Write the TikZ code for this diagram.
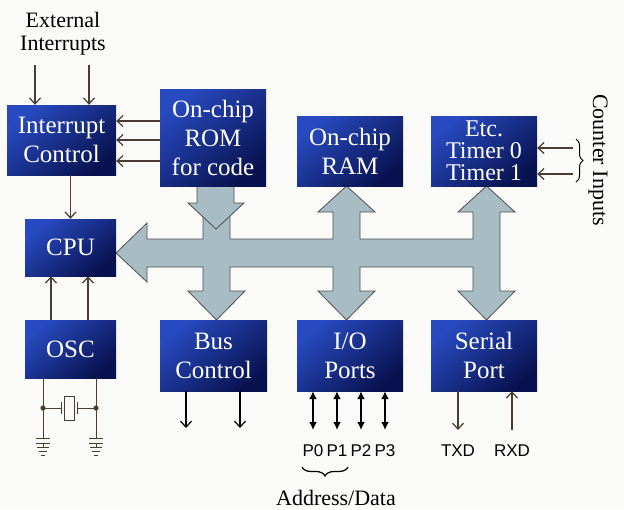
\documentclass[tikz,border=0pt]{standalone}
\usepackage{fontspec}
\setmainfont{Liberation Serif}
\setsansfont{Liberation Sans}
\usetikzlibrary{arrows.meta,decorations.pathreplacing}

\definecolor{blkhi}{RGB}{40,74,192}
\definecolor{blklo}{RGB}{8,18,80}
\definecolor{busfill}{RGB}{168,188,196}
\definecolor{busline}{RGB}{78,78,78}
\definecolor{wirec}{RGB}{74,60,50}
\definecolor{paper}{RGB}{250,250,248}

\begin{document}
\begin{tikzpicture}[x=1pt,y=-1pt,
  blk/.style={top color=blkhi,bottom color=blklo,shading angle=40,text=white,
    align=center,inner sep=0pt,font=\fontsize{25}{29}\selectfont},
  wire/.style={draw=wirec,line width=1.2pt,-{Straight Barb[length=6pt,width=11pt]}},
  port/.style={line width=2pt,{Latex[length=8pt,width=8pt]}-{Latex[length=8pt,width=8pt]}},
  xtal/.style={draw=wirec,line width=0.9pt},
  busedge/.style={draw=busline,line width=0.8pt,fill=busfill},
  lbl/.style={font=\fontsize{17}{19}\sffamily\selectfont},
  note/.style={font=\fontsize{22}{23}\selectfont,align=center}]
  \fill[paper] (0,0) rectangle (624,509);
  \useasboundingbox (0,0) rectangle (624,509);

  \fill[busfill] (197,186) -- (234,186) -- (234,203) -- (244,203) -- (216,229) -- (188,203) -- (197,203) -- cycle;
  \filldraw[busedge] (230,216.5) -- (230,239) -- (333,239) -- (333,212) -- (318,212) -- (346.5,186) -- (375,212)
    -- (360,212) -- (360,239) -- (473,239) -- (473,212) -- (458,212) -- (486.5,186) -- (515,212) -- (500,212)
    -- (500,291) -- (515,291) -- (486.5,320) -- (458,291) -- (473,291) -- (473,267) -- (360,267) -- (360,291)
    -- (375,291) -- (346.5,320) -- (318,291) -- (333,291) -- (333,267) -- (230,267) -- (230,291) -- (245,291)
    -- (216.5,320) -- (188,291) -- (203,291) -- (203,267) -- (147,267) -- (147,282) -- (116,253) -- (147,223)
    -- (147,239) -- (203,239) -- (203,216.5);
  \draw[busedge,fill=none] (197,186) -- (234,186) -- (234,203) -- (244,203) -- (216,229) -- (188,203) -- (197,203) -- cycle;

  \node[blk,minimum width=109pt,minimum height=70pt] (intc) at (61.5,140) {Interrupt\\Control};
  \node[blk,minimum width=106pt,minimum height=97pt] (rom) at (213,137.5) {On-chip\\ROM\\for code};
  \node[blk,minimum width=106pt,minimum height=70pt] (ram) at (350,151) {On-chip\\RAM};
  \node[blk,minimum width=106pt,minimum height=70pt,font=\fontsize{24}{22}\selectfont] (tmr) at (484,151) {Etc.\\Timer 0\\Timer 1};
  \node[blk,minimum width=91pt,minimum height=57pt] (cpu) at (70.5,247.5) {CPU};
  \node[blk,minimum width=91pt,minimum height=58pt] (osc) at (70.5,349) {OSC};
  \node[blk,minimum width=107pt,minimum height=71pt] (busc) at (213.5,355.5) {Bus\\Control};
  \node[blk,minimum width=106pt,minimum height=71pt] (io) at (350,355.5) {I/O\\Ports};
  \node[blk,minimum width=106pt,minimum height=71pt] (ser) at (484,355.5) {Serial\\Port};

  \node[note] (ext) at (63,34) {External\\Interrupts};
  \coordinate (ei1) at (35,65);
  \coordinate (ei2) at (89,65);
  \draw[wire] (ei1) -- (ei1 |- intc.north);
  \draw[wire] (ei2) -- (ei2 |- intc.north);
  \foreach \yy in {121,140,161}
    \draw[wire] (rom.west |- 0,\yy) -- (intc.east |- 0,\yy);
  \draw[wire] (intc.south -| cpu.north) -- (cpu.north);
  \foreach \xx in {51,88}
    \draw[wire] (\xx,0 |- osc.north) -- (\xx,0 |- cpu.south);

  \coordinate (xa) at (43,408);
  \coordinate (xb) at (96,408);
  \draw[xtal] (xa |- osc.south) -- (43,438);
  \draw[xtal] (xb |- osc.south) -- (96,438);
  \draw[xtal] (xa) -- (61,408) (xb) -- (77,408);
  \draw[xtal] (61,402) -- (61,414) (77,402) -- (77,414);
  \draw[xtal,fill=paper] (64,396) rectangle (74,420);
  \fill[wirec] (xa) circle (2.6pt) (xb) circle (2.6pt);
  \foreach \xx in {43,96}
    \draw[xtal] (\xx-7,438) -- (\xx+7,438) (\xx-7,443) -- (\xx+7,443) (\xx,443) -- (\xx,447)
      (\xx-6,447) -- (\xx+6,447) (\xx-4,451) -- (\xx+4,451) (\xx-2,455) -- (\xx+2,455);

  \node[note,rotate=-90] (cin) at (598,160) {Counter Inputs};
  \foreach \yy in {148,174}
    \draw[wire] (573,\yy) -- (tmr.east |- 0,\yy);
  \draw[decorate,decoration={brace,amplitude=7pt},line width=1pt] (576,139) -- (576,182);

  \foreach \xx in {186,240}
    \draw[wire,draw=black] (\xx,0 |- busc.south) -- (\xx,428);

  \foreach \xx/\nm in {313/P0,337/P1,361/P2,385/P3} {
    \node[lbl] (\nm) at (\xx,451) {\nm};
    \draw[port] (\xx,0 |- io.south) -- (\xx,430);
  }
  \draw[decorate,decoration={brace,mirror,amplitude=9pt},line width=1.2pt] (302,467) -- (348,467);
  \node[note] (adr) at (336,498) {Address/Data};

  \node[lbl] (txd) at (458,451) {TXD};
  \node[lbl] (rxd) at (512,451) {RXD};
  \draw[wire] (458,0 |- ser.south) -- (458,430);
  \draw[wire] (512,430) -- (512,0 |- ser.south);
\end{tikzpicture}
\end{document}
